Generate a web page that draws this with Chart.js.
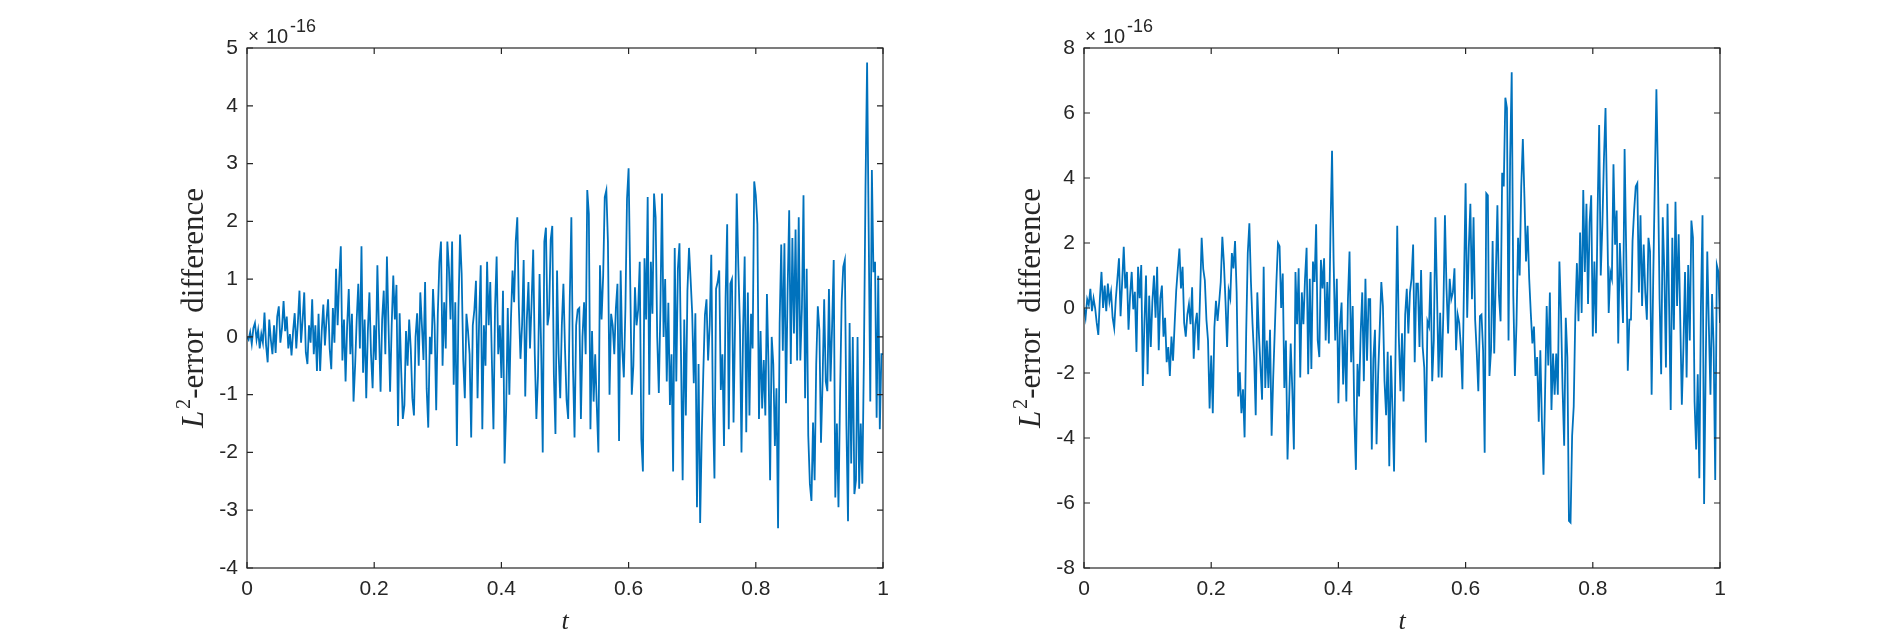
<!DOCTYPE html>
<html>
<head>
<meta charset="utf-8">
<title>L2-error difference</title>
<script src="https://cdn.jsdelivr.net/npm/chart.js@4/dist/chart.umd.min.js"></script>
<style>
  html, body { margin: 0; padding: 0; background: #fff; }
  #wrap { position: relative; width: 1900px; height: 640px; overflow: hidden; }
  .panel { position: absolute; top: 0; width: 950px; height: 640px; }
</style>
</head>
<body>
<div id="wrap">
  <div class="panel" style="left:0"><canvas id="leftPlot" width="950" height="640"></canvas></div>
  <div class="panel" style="left:950px"><canvas id="rightPlot" width="950" height="640"></canvas></div>
</div>
<script>
// values are in units of 1e-16, sampled uniformly on t in [0, 1]
const EXPONENT = '-16';

const leftDiff = [
  0, -0.05, 0.08, -0.12, 0.15, 0.24, -0.05, 0.12, -0.2, 0.05,
  -0.1, 0.42, -0.15, -0.44, 0.3, -0.05, -0.3, 0.2, -0.28, 0.35,
  0.53, -0.1, 0.15, 0.62, 0.1, 0.35, -0.2, 0.05, -0.32, 0.1,
  0.41, -0.2, 0.25, 0.8, -0.1, 0.3, 0.77, -0.27, -0.47, 0.2,
  -0.1, 0.65, -0.3, 0.2, -0.59, 0.4, -0.59, 0.1, 0.56, -0.15,
  0.3, 0.65, -0.2, -0.56, 0.5, -0.1, 1.18, 0.2, 1.0, 1.57,
  -0.41, 0.3, -0.77, 0.2, 0.83, -0.3, 0.4, -1.12, -0.5, 0.3,
  0.92, -0.2, 1.57, -0.62, 0.3, -1.06, 0.1, 0.77, -0.3, -0.89,
  0.2, -0.4, 1.24, 0.1, -0.95, 0.3, 0.8, -0.3, 1.39, 0.2,
  -0.95, 0.2, 1.06, 0.3, 0.9, -1.54, 0.41, -0.6, -1.42, -1.18,
  0.1, -0.5, 0.3, -0.2, -1.06, -1.36, 0.0, 0.41, -0.5, 0.77,
  0.2, -0.4, 0.95, -0.9, -1.57, 0.0, -0.3, 0.83, 0.2, -1.27,
  0.4, 1.3, 1.65, -0.5, 0.6, -0.2, 1.65, 1.2, 0.3, 1.65,
  -0.83, 0.6, -1.89, 0.5, 1.77, 1.1, -0.4, -1.06, 0.4, 0.1,
  -0.3, -1.74, 0.2, 0.47, 0.97, -1.06, 0.3, 1.24, -1.6, 0.2,
  -0.5, 1.3, 0.2, 0.95, -0.4, -1.6, 0.5, 1.39, -0.3, 0.2,
  -0.71, 0.8, -2.19, -1.24, 0.5, -1.0, 0.3, 1.15, 0.6, 1.65,
  2.07, 0.5, -0.38, 0.2, 1.33, -1.03, 0.3, 0.95, -0.2, 0.6,
  1.51, -0.3, -1.42, -0.68, 1.09, -0.2, -2.0, 1.65, 1.89, 0.2,
  0.4, 1.68, 1.92, -0.65, -1.68, 1.15, -0.3, -1.06, 0.2, 0.92,
  -0.2, -1.1, -1.42, 0.65, 2.07, -0.5, -1.74, 0.2, 0.47, 0.5,
  -1.42, 0.0, 0.6, -0.3, 2.54, 2.13, -1.6, 0.1, -1.12, -0.3,
  -1.2, -2.0, 1.24, 0.3, 1.06, 2.42, 2.54, 1.65, -1.0, 0.4,
  0.2, -0.3, 0.5, 0.92, -1.8, 1.15, -0.2, -0.7, 0.5, 2.39,
  2.92, 1.0, -1.0, -0.5, 0.86, 0.2, 0.47, 1.3, -1.77, -2.33,
  1.36, 0.3, 2.42, -1.0, 1.3, 0.4, 2.48, 2.07, 0.0, -0.97,
  0.5, 2.48, 0.0, 1.0, -0.77, 0.59, -1.18, -0.3, -2.33, 1.54,
  -0.77, 1.18, 1.62, -0.4, -2.48, 0.3, -1.36, 0.8, 1.54, 1.0,
  0.41, -0.8, 0.41, -2.95, -0.47, -3.22, -1.71, -0.6, 0.38, 0.65,
  -0.41, 0.2, 1.42, -1.18, -2.45, 0.83, 0.95, 1.15, -0.92, -0.3,
  -1.89, 0.68, 1.95, -1.6, 0.92, 1.0, -1.48, 0.3, 2.48, 1.24,
  0.2, -2.0, 0.1, 1.39, -1.65, 0.77, -1.36, 0.4, -0.2, 2.69,
  2.45, 1.95, -1.42, 0.1, -1.24, -0.4, -1.36, 0.74, -0.5, -2.48,
  0.0, -0.47, -1.89, -0.89, -3.31, 0.24, 1.6, -0.24, 1.62, -1.15,
  0.8, 2.19, -0.47, 1.71, 0.06, 1.86, -0.41, 2.07, -0.41, 0.5,
  2.45, -1.06, 1.18, -1.71, -2.54, -2.84, -1.48, -2.48, -0.47, 0.53,
  0.12, -1.83, -0.77, 0.65, -0.77, -0.94, 0.83, -0.77, 0.2, 1.33,
  -2.78, -1.5, -2.95, -1.0, 0.62, 1.21, 1.33, -1.54, -3.19, 0.24,
  -2.19, 0.0, -2.72, -2.48, 0.0, -2.63, -1.5, -2.54, -0.35, 2.6,
  4.75, 1.83, -1.12, 2.89, 1.12, 1.3, -1.4, 1.06, -1.6, -0.3, -0.3
];

const rightDiff = [
  0, -0.3, 0.27, 0.1, 0.59, -0.1, 0.3, 0.0, -0.46, -0.83,
  0.3, 1.11, 0.0, 0.69, -0.1, 0.75, 0.2, 0.5, -0.3, -0.62,
  0.27, 0.9, 1.53, -0.25, 0.8, 1.88, 0.6, 1.11, -0.67, 0.4,
  1.11, -0.04, 0.5, -1.35, 1.27, 0.3, 1.32, -2.4, -0.46, 1.0,
  -2.04, 0.38, -1.2, 0.2, 1.0, -0.3, 1.27, -1.3, 0.3, 0.69,
  -0.88, -0.3, -1.67, -1.2, -2.09, -0.88, -1.62, -0.5, 0.54, 1.2,
  1.83, 0.6, 1.27, -0.46, -0.88, -0.2, 0.12, -0.5, 0.64, -1.56,
  -0.5, -0.15, -1.3, 0.4, 2.16, 1.2, 0.85, -0.36, -1.0, -3.09,
  -1.46, -3.24, -0.6, 0.22, -0.4, 0.17, 0.8, 2.19, 1.38, 0.2,
  -1.2, 0.54, 0.3, 1.69, 1.22, 2.06, 0.5, -2.72, -1.98, -3.24,
  -2.5, -3.98, -0.78, 1.69, 2.61, 0.8, -0.5, -1.5, -3.3, 0.48,
  -0.78, -1.8, -2.82, 1.27, -2.46, -1.0, -2.46, -0.67, -3.93, -2.14,
  -0.67, 0.8, 2.0, 1.9, 0.0, 1.06, -2.46, -1.0, -4.66, -2.93,
  -1.09, -2.5, -4.35, 1.11, -0.5, 1.22, -2.14, 0.48, -0.5, 0.9,
  1.85, -2.04, 0.9, -1.88, 1.43, 0.8, 2.58, -1.0, -1.51, 1.48,
  0.6, 1.53, -1.0, 0.8, -1.09, 2.37, 4.84, 1.43, -1.0, 0.9,
  -2.93, -0.5, 0.17, -2.35, -0.67, -2.88, 0.27, 1.74, -1.67, 0.06,
  -3.3, -4.98, -1.72, -2.72, -0.78, 0.48, -2.25, 0.9, -1.62, 0.27,
  0.27, -4.35, -1.56, -0.67, -4.19, -2.04, -0.62, 0.8, 0.06, -2.25,
  -3.3, -1.35, -4.87, -1.46, -3.09, -5.03, -1.09, 2.53, -0.88, -2.56,
  -0.78, -2.88, -0.2, 0.59, -0.78, 0.48, 0.9, 1.95, -1.67, 0.75,
  0.75, -1.2, 1.17, -1.2, -1.83, -4.14, -0.41, -0.57, 1.11, -2.25,
  -1.0, 2.79, 0.5, -2.14, -0.15, -2.14, -0.15, 2.85, 0.6, -0.78,
  0.9, 0.27, 0.48, 1.22, -1.3, -0.2, -0.46, -1.2, -2.5, 0.8,
  3.84, -0.3, 1.85, 3.21, 0.27, 2.79, -0.36, -1.35, -2.56, -0.25,
  -0.2, -1.3, -4.45, 3.53, 3.47, -2.09, -1.3, 2.06, -1.4, 1.0,
  3.16, 0.38, -0.41, 4.16, 3.74, 6.47, 6.15, -1.0, 4.58, 7.25,
  0.38, -2.09, -0.5, 2.16, 1.0, 3.74, 5.2, 3.42, 1.43, 2.53,
  0.9, -0.15, -1.09, -0.57, -2.09, -1.51, -3.5, -1.3, -3.5, -5.13,
  -2.56, 0.06, -1.77, 0.48, -3.14, -1.4, -2.67, -1.4, -2.67, 1.43,
  -0.15, -2.5, -4.24, -0.3, -1.51, -6.55, -6.6, -3.93, -3.03, -0.25,
  1.38, -0.41, 2.32, -0.15, 3.63, 1.11, 3.21, 0.12, 2.64, 3.47,
  -0.88, 1.43, -0.78, 2.9, 5.63, 1.0, 2.53, 4.58, 6.15, 3.0,
  -0.15, 1.11, 0.9, 4.42, 1.95, 3.0, -1.09, 2.0, 0.8, -0.46,
  4.89, 1.74, -1.93, -0.36, -0.36, 2.06, 3.0, 3.74, 3.84, 0.48,
  2.85, 0.06, 1.95, 0.48, -0.36, 2.16, 1.74, -2.67, 0.9, 3.84,
  6.73, 4.05, 0.27, -2.04, 2.79, 1.11, -1.83, 3.21, 0.06, -3.14,
  2.16, -0.67, 3.27, 0.06, 2.27, -0.36, -2.98, -1.2, 1.11, -2.14,
  1.32, -1.0, 2.69, 2.16, -2.88, -4.35, -2.04, -5.24, 0.06, 2.85,
  -6.03, -1.83, 1.74, -0.57, -2.67, 0.43, -1.2, -5.29, 1.32, 1.11, -0.46
];

const xTicks = [0, 0.2, 0.4, 0.6, 0.8, 1];
const leftYTicks = [-4, -3, -2, -1, 0, 1, 2, 3, 4, 5];
const rightYTicks = [-8, -6, -4, -2, 0, 2, 4, 6, 8];

const LINE_COLOR = '#0072BD';
const AXIS_COLOR = '#262626';
const SANS = '"Liberation Sans", Arial, sans-serif';
const SERIF = '"Liberation Serif", "Times New Roman", serif';
const TICK_LEN = 6;
const AREA_W = 636;

// box, inward ticks, exponent and LaTeX-like axis labels, MATLAB style
const matlabAxes = {
  id: 'matlabAxes',
  afterDraw(chart) {
    const { ctx, chartArea: a, scales: { x, y } } = chart;
    ctx.save();
    ctx.strokeStyle = AXIS_COLOR;
    ctx.lineWidth = 1.2;
    ctx.beginPath();
    x.ticks.forEach(t => {
      const px = x.getPixelForValue(t.value);
      ctx.moveTo(px, a.bottom); ctx.lineTo(px, a.bottom - TICK_LEN);
      ctx.moveTo(px, a.top); ctx.lineTo(px, a.top + TICK_LEN);
    });
    y.ticks.forEach(t => {
      const py = y.getPixelForValue(t.value);
      ctx.moveTo(a.left, py); ctx.lineTo(a.left + TICK_LEN, py);
      ctx.moveTo(a.right, py); ctx.lineTo(a.right - TICK_LEN, py);
    });
    ctx.stroke();
    ctx.strokeRect(a.left, a.top, a.right - a.left, a.bottom - a.top);

    // x10^-16 above the top left corner
    ctx.fillStyle = AXIS_COLOR;
    ctx.textAlign = 'left';
    ctx.textBaseline = 'alphabetic';
    ctx.font = '19px ' + SANS;
    ctx.fillText('\u00d7', a.left + 1, 42);
    ctx.font = '20px ' + SANS;
    ctx.fillText('10', a.left + 19, 43);
    ctx.font = '18px ' + SANS;
    ctx.fillText(EXPONENT, a.left + 43, 32);

    // x label
    ctx.textAlign = 'center';
    ctx.font = 'italic 26px ' + SERIF;
    ctx.fillText('t', (a.left + a.right) / 2, 629);

    // y label, fitted to the reference length
    const target = 240;
    const parts = size => [
      { text: 'L', font: `italic ${size}px ${SERIF}`, dy: 0, gap: size * 0.06 },
      { text: '2', font: `${size * 0.66}px ${SERIF}`, dy: -size * 0.42, gap: 0 },
      { text: '-error  difference', font: `${size}px ${SERIF}`, dy: 0, gap: 0 }
    ];
    const measure = ps => ps.reduce((s, p) => { ctx.font = p.font; p.w = ctx.measureText(p.text).width; return s + p.w + p.gap; }, 0);
    const size = 30 * target / measure(parts(30));
    const ps = parts(size);
    const total = measure(ps);
    ctx.translate(a.left - 44, (a.top + a.bottom) / 2);
    ctx.rotate(-Math.PI / 2);
    ctx.textAlign = 'left';
    let cx = -total / 2;
    ps.forEach(p => {
      ctx.font = p.font;
      ctx.fillText(p.text, cx, p.dy);
      cx += p.w + p.gap;
    });
    ctx.restore();
  }
};

function makePlot(canvasId, values, yTicks, areaLeft) {
  const points = values.map((v, i) => ({ x: i / (values.length - 1), y: v }));
  const tickFont = { family: SANS, size: 21 };
  return new Chart(document.getElementById(canvasId), {
    type: 'line',
    data: {
      datasets: [{
        data: points,
        borderColor: LINE_COLOR,
        borderWidth: 1.8,
        pointRadius: 0,
        tension: 0,
        fill: false
      }]
    },
    options: {
      responsive: false,
      animation: false,
      events: [],
      layout: { padding: { left: 0, right: 950 - areaLeft - AREA_W, top: 48, bottom: 0 } },
      plugins: { legend: { display: false }, tooltip: { enabled: false } },
      scales: {
        x: {
          type: 'linear',
          min: xTicks[0],
          max: xTicks[xTicks.length - 1],
          afterBuildTicks: s => { s.ticks = xTicks.map(v => ({ value: v })); },
          afterFit: s => { s.height = 72; },
          ticks: { padding: 9, color: AXIS_COLOR, font: tickFont, maxRotation: 0, callback: v => String(v) },
          grid: { display: false, drawTicks: false },
          border: { display: false }
        },
        y: {
          type: 'linear',
          min: yTicks[0],
          max: yTicks[yTicks.length - 1],
          afterBuildTicks: s => { s.ticks = yTicks.map(v => ({ value: v })); },
          afterFit: s => { s.width = areaLeft; },
          ticks: { padding: 9, color: AXIS_COLOR, font: tickFont, callback: v => String(v) },
          grid: { display: false, drawTicks: false },
          border: { display: false }
        }
      }
    },
    plugins: [matlabAxes]
  });
}

makePlot('leftPlot', leftDiff, leftYTicks, 247);
makePlot('rightPlot', rightDiff, rightYTicks, 134);
</script>
</body>
</html>
